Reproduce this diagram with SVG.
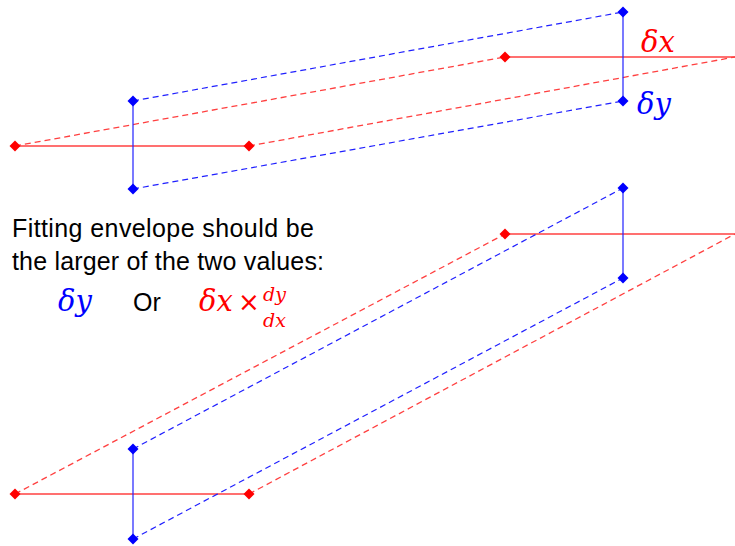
<svg xmlns="http://www.w3.org/2000/svg" width="735" height="546" viewBox="0 0 735 546">
<style>
.r{stroke:#ff4040;stroke-width:1.3;fill:none}
.b{stroke:#2020ff;stroke-width:1.2;fill:none}
.d{stroke-dasharray:6,4}
.rd{fill:#ff0000}
.bd{fill:#0000ff}
.t{font-family:"Liberation Sans","Open Sans",sans-serif;font-size:25px;fill:#000}
.m{font-family:"DejaVu Serif","Liberation Serif",serif;font-style:italic}
</style>
<defs>
<path id="dm" d="M0,-5.5 L5.5,0 L0,5.5 L-5.5,0 Z"/>
</defs>
<rect width="735" height="546" fill="#fff"/>
<g id="connectors">
<line class="r" x1="15" y1="146" x2="249" y2="146"/>
<line class="r" x1="505" y1="57" x2="735" y2="57"/>
<line class="r d" x1="15" y1="146" x2="505" y2="57"/>
<line class="r d" x1="249" y1="146" x2="735" y2="57"/>
<line class="b" x1="133" y1="101" x2="133" y2="189"/>
<line class="b" x1="623" y1="12" x2="623" y2="101"/>
<line class="b d" x1="133" y1="101" x2="623" y2="12"/>
<line class="b d" x1="133" y1="189" x2="623" y2="101"/>
<line class="r" x1="15" y1="494" x2="249" y2="494"/>
<line class="r" x1="505" y1="234" x2="735" y2="234"/>
<line class="r d" x1="15" y1="494" x2="505" y2="234"/>
<line class="r d" x1="249" y1="494" x2="735" y2="234"/>
<line class="b" x1="133" y1="449" x2="133" y2="539"/>
<line class="b" x1="623" y1="188" x2="623" y2="278"/>
<line class="b d" x1="133" y1="449" x2="623" y2="188"/>
<line class="b d" x1="133" y1="539" x2="623" y2="278"/>
</g>
<g id="points">
<use href="#dm" class="rd" x="15" y="146"/>
<use href="#dm" class="rd" x="249" y="146"/>
<use href="#dm" class="rd" x="505" y="57"/>
<use href="#dm" class="bd" x="133" y="101"/>
<use href="#dm" class="bd" x="133" y="189"/>
<use href="#dm" class="bd" x="623" y="12"/>
<use href="#dm" class="bd" x="623" y="101"/>
<use href="#dm" class="rd" x="15" y="494"/>
<use href="#dm" class="rd" x="249" y="494"/>
<use href="#dm" class="rd" x="505" y="234"/>
<use href="#dm" class="bd" x="133" y="449"/>
<use href="#dm" class="bd" x="133" y="539"/>
<use href="#dm" class="bd" x="623" y="188"/>
<use href="#dm" class="bd" x="623" y="278"/>
</g>
<g id="labels">
<text class="m" x="641" y="52" font-size="29" fill="#ff0000">δx</text>
<text class="m" x="637" y="114" font-size="29" fill="#0000ff">δy</text>
</g>
<g id="caption">
<text class="t" x="12" y="237" textLength="302">Fitting envelope should be</text>
<text class="t" x="12" y="270" textLength="312">the larger of the two values:</text>
<text class="m" x="58" y="311" font-size="29" fill="#0000ff">δy</text>
<text class="t" x="133" y="311">Or</text>
<text class="m" x="199" y="311" font-size="29" fill="#ff0000">δx</text>
<text x="238" y="311" font-family="DejaVu Sans, sans-serif" font-size="26" fill="#ff0000">×</text>
<text class="m" x="263" y="301" font-size="19" fill="#ff0000">dy</text>
<text class="m" x="263" y="327" font-size="19" fill="#ff0000">dx</text>
</g>
</svg>
